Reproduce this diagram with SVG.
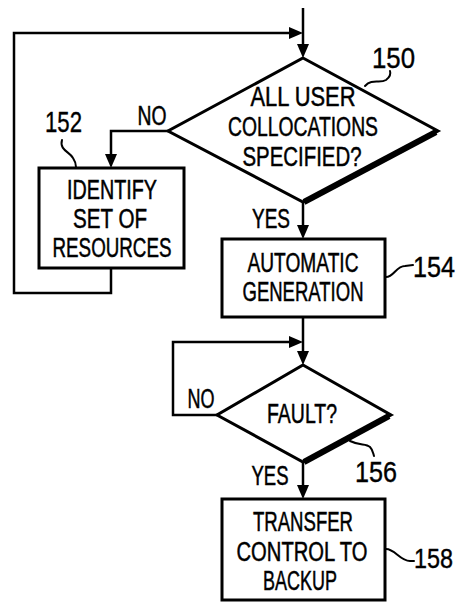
<svg xmlns="http://www.w3.org/2000/svg" width="463" height="603" viewBox="0 0 463 603">
  <defs>
    <style>
      .shape { fill: #fff; stroke: #000; stroke-width: 3; stroke-linejoin: miter; }
      .shadow { fill: none; stroke: #000; stroke-width: 6; stroke-linecap: butt; }
      .line { fill: none; stroke: #000; stroke-width: 2.5; }
      .head { fill: #000; }
      .lead { fill: none; stroke: #000; stroke-width: 2; stroke-linecap: round; }
      .t { font-family: "Liberation Sans", Arial, sans-serif; font-size: 27px; text-anchor: middle; fill: #000; stroke: #000; stroke-width: 0.5; }
      .n { font-family: "Liberation Sans", Arial, sans-serif; font-size: 30px; fill: #000; stroke: #000; stroke-width: 0.4; }
      .n.edge { font-size: 28px; }
    </style>
  </defs>
  <rect width="463" height="603" fill="#fff"/>

  <!-- connectors -->
  <g id="connectors">
    <!-- entry into the first decision -->
    <line class="line" x1="303" y1="8" x2="303" y2="50"/>
    <path class="head" d="M303,58 L297,44 L309,44 Z"/>
    <!-- return loop from step 152 -->
    <polyline class="line" points="111,268 111,293 14,293 14,33 290,33"/>
    <path class="head" d="M303,33 L289,27 L289,39 Z"/>
    <!-- NO branch to step 152 -->
    <polyline class="line" points="168,131 111,131 111,155"/>
    <path class="head" d="M111,168 L105,154 L117,154 Z"/>
    <!-- YES branch to step 154 -->
    <line class="line" x1="303" y1="202" x2="303" y2="226"/>
    <path class="head" d="M303,239 L297,225 L309,225 Z"/>
    <!-- step 154 to the fault check -->
    <line class="line" x1="303" y1="317" x2="303" y2="355"/>
    <path class="head" d="M303,365 L297,351 L309,351 Z"/>
    <!-- NO loop of the fault check -->
    <polyline class="line" points="217,415 173,415 173,342 290,342"/>
    <path class="head" d="M303,342 L289,336 L289,348 Z"/>
    <!-- YES branch to step 158 -->
    <line class="line" x1="303" y1="462" x2="303" y2="486"/>
    <path class="head" d="M303,499 L297,485 L309,485 Z"/>
  </g>

  <!-- decision 150 -->
  <g id="node-150">
    <polygon class="shape" points="303,58 438,131 303,202 168,131"/>
    <line class="shadow" x1="436" y1="132" x2="304" y2="202"/>
    <text class="t" x="303" y="106" textLength="105" lengthAdjust="spacingAndGlyphs">ALL USER</text>
    <text class="t" x="303" y="136" textLength="150" lengthAdjust="spacingAndGlyphs">COLLOCATIONS</text>
    <text class="t" x="302" y="166" textLength="119" lengthAdjust="spacingAndGlyphs">SPECIFIED?</text>
    <text class="n" x="372" y="68" textLength="43" lengthAdjust="spacingAndGlyphs">150</text>
    <path class="lead" d="M365,86 C372,78 380,84 386,80 C390,77 391,74 390,71"/>
    <text class="t" x="152" y="125" textLength="29" lengthAdjust="spacingAndGlyphs">NO</text>
    <text class="t" x="271" y="228" textLength="38" lengthAdjust="spacingAndGlyphs">YES</text>
  </g>

  <!-- step 152 -->
  <g id="node-152">
    <rect class="shape" x="39" y="168" width="145" height="100"/>
    <text class="t" x="112" y="199" textLength="90" lengthAdjust="spacingAndGlyphs">IDENTIFY</text>
    <text class="t" x="110" y="228" textLength="74" lengthAdjust="spacingAndGlyphs">SET OF</text>
    <text class="t" x="112" y="257" textLength="119" lengthAdjust="spacingAndGlyphs">RESOURCES</text>
    <text class="n" x="45" y="132" textLength="37" lengthAdjust="spacingAndGlyphs">152</text>
    <path class="lead" d="M62,140 C59,150 70,152 73,158 C75,161 76,164 76,167"/>
  </g>

  <!-- step 154 -->
  <g id="node-154">
    <rect class="shape" x="222" y="239" width="163" height="78"/>
    <text class="t" x="303" y="272" textLength="111" lengthAdjust="spacingAndGlyphs">AUTOMATIC</text>
    <text class="t" x="303" y="301" textLength="121" lengthAdjust="spacingAndGlyphs">GENERATION</text>
    <text class="n" x="413" y="277" textLength="42" lengthAdjust="spacingAndGlyphs">154</text>
    <path class="lead" d="M386,277 C394,277 396,266 405,266 L413,265"/>
  </g>

  <!-- decision 156 -->
  <g id="node-156">
    <polygon class="shape" points="303,365 391,415 303,462 217,415"/>
    <line class="shadow" x1="389" y1="416" x2="304" y2="462"/>
    <text class="t" x="302" y="423" textLength="70" lengthAdjust="spacingAndGlyphs">FAULT?</text>
    <text class="n" x="355" y="482" textLength="42" lengthAdjust="spacingAndGlyphs">156</text>
    <path class="lead" d="M350,441 C360,446 366,443 370,447 C373,450 373,453 374,456"/>
    <text class="t" x="201" y="408" textLength="27" lengthAdjust="spacingAndGlyphs">NO</text>
    <text class="t" x="270" y="485" textLength="37" lengthAdjust="spacingAndGlyphs">YES</text>
  </g>

  <!-- step 158 -->
  <g id="node-158">
    <rect class="shape" x="222" y="499" width="163" height="101"/>
    <text class="t" x="303" y="531" textLength="100" lengthAdjust="spacingAndGlyphs">TRANSFER</text>
    <text class="t" x="302" y="561" textLength="131" lengthAdjust="spacingAndGlyphs">CONTROL TO</text>
    <text class="t" x="300" y="590" textLength="74" lengthAdjust="spacingAndGlyphs">BACKUP</text>
    <text class="n edge" x="414" y="568" textLength="39" lengthAdjust="spacingAndGlyphs">158</text>
    <path class="lead" d="M386,549 C395,549 400,561 410,561 L414,561"/>
  </g>
</svg>
